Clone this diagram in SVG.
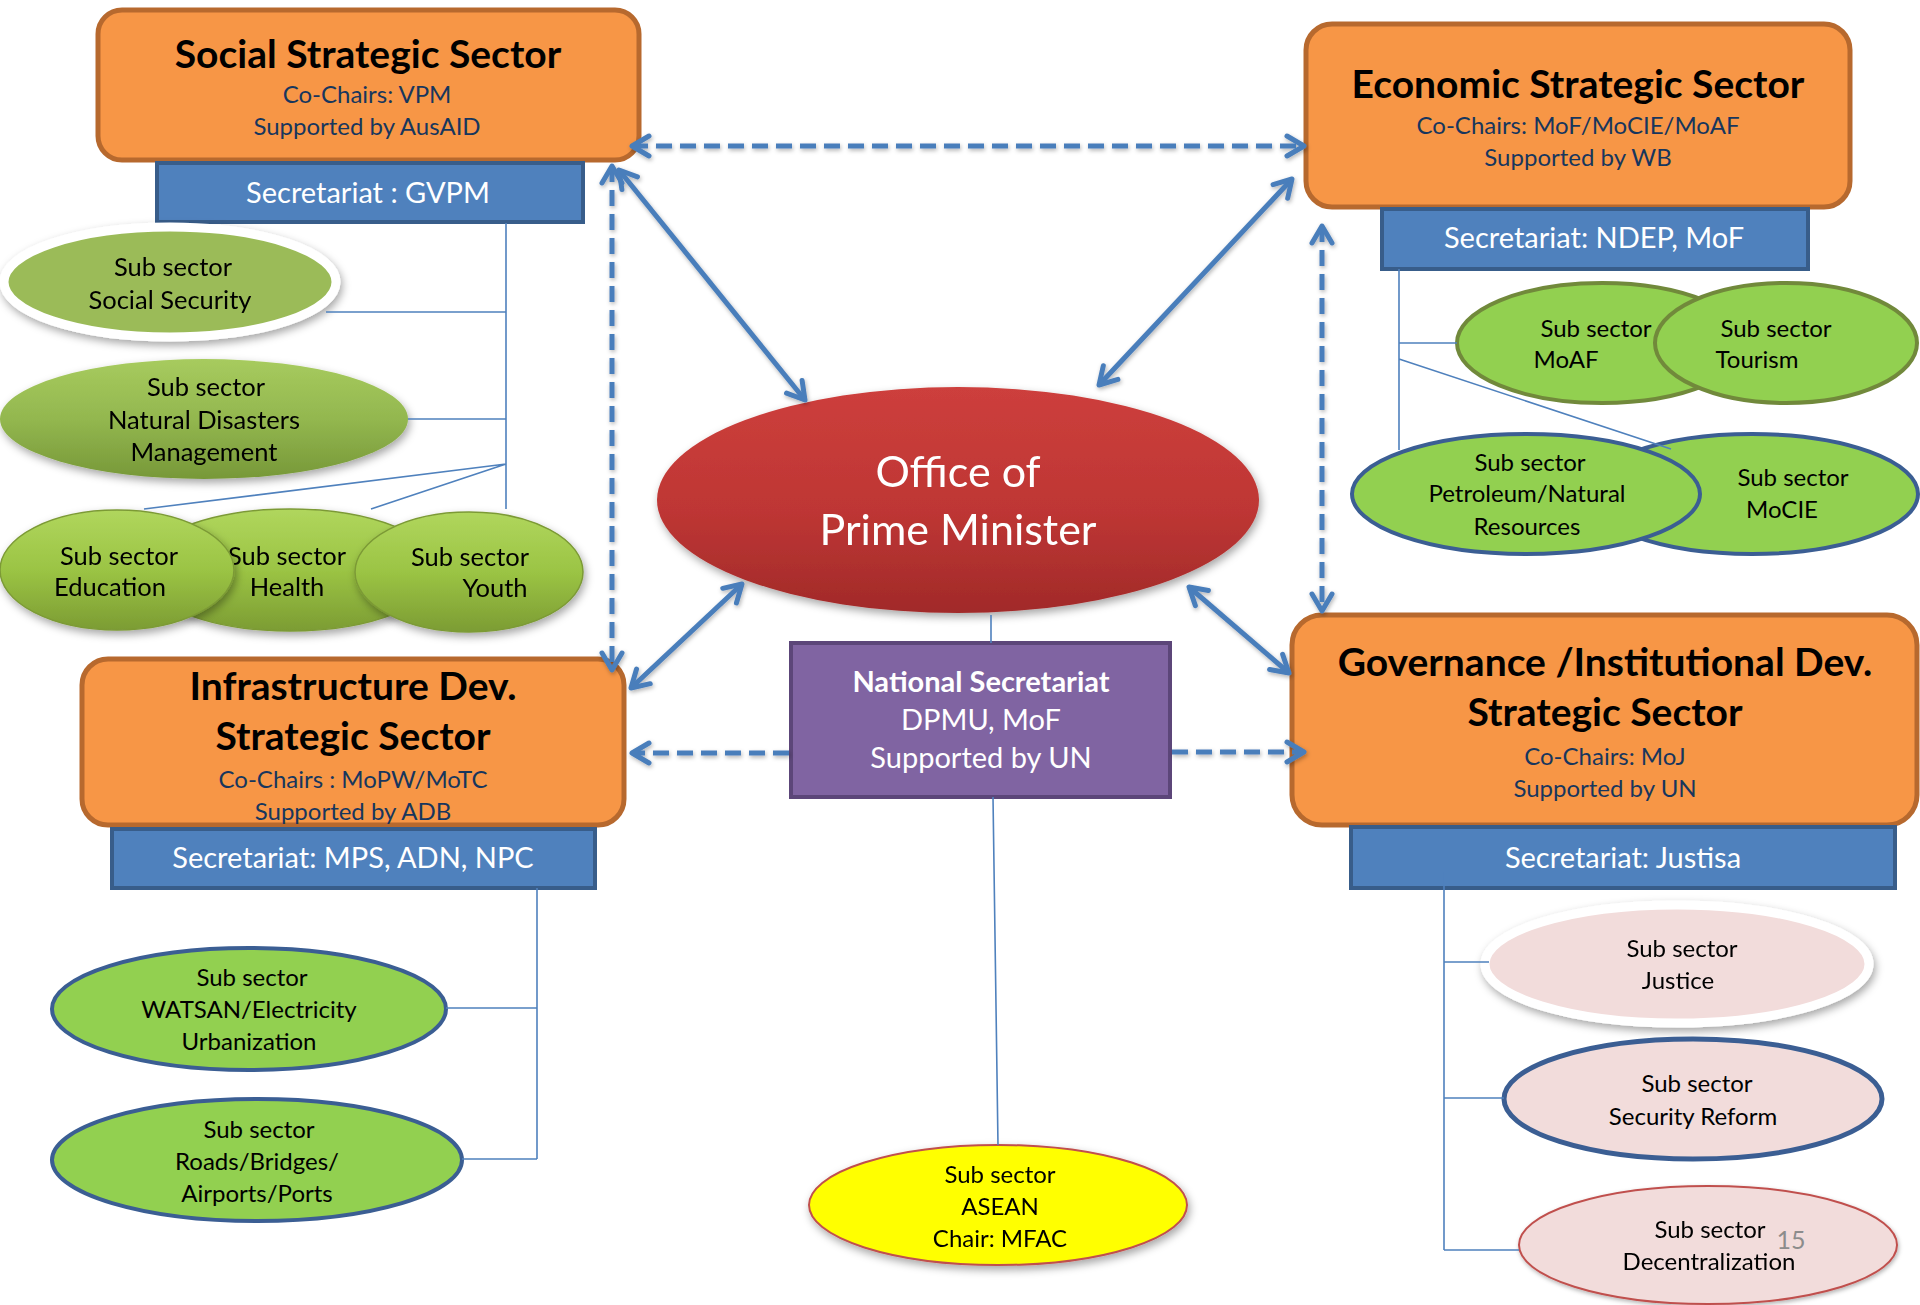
<svg xmlns="http://www.w3.org/2000/svg" width="1920" height="1305" viewBox="0 0 1920 1305">
<defs>
<style>
text{font-family:Lato,"Open Sans","Liberation Sans",sans-serif;text-anchor:middle}
.box{fill:#F79646;stroke:#B7692E;stroke-width:5}
.title{font-weight:bold;font-size:39px;fill:#000}
.sub{font-size:24px;fill:#17365D}
.bar{fill:#4F81BD;stroke:#385D8A;stroke-width:4}
.bartxt{font-size:29px;fill:#fff}
.ss{font-size:25.5px;fill:#000}
.ss2{font-size:24px;fill:#000}
.link{fill:none;stroke:#4F81BD;stroke-width:1.6}
.arr{fill:none;stroke:#4A7EBB;stroke-width:5}
.dash{stroke-dasharray:16 8}
.gE{fill:#92D050}
.pink{fill:#F2DCDB}
</style>
<linearGradient id="gOPM" x1="0" y1="0" x2="0" y2="1">
<stop offset="0" stop-color="#CD3F3C"/><stop offset="0.55" stop-color="#BE3634"/><stop offset="1" stop-color="#A12A29"/>
</linearGradient>
<linearGradient id="gNat" x1="0" y1="0" x2="0" y2="1">
<stop offset="0" stop-color="#A7CB5E"/><stop offset="0.5" stop-color="#93B74F"/><stop offset="1" stop-color="#779838"/>
</linearGradient>
<linearGradient id="gEdu" x1="0" y1="0" x2="0" y2="1">
<stop offset="0" stop-color="#B0D65D"/><stop offset="0.5" stop-color="#9BC444"/><stop offset="1" stop-color="#7C9C33"/>
</linearGradient>
<filter id="sh" x="-20%" y="-20%" width="140%" height="150%">
<feDropShadow dx="2" dy="4" stdDeviation="4" flood-color="#000" flood-opacity="0.35"/>
</filter>
<filter id="shs" x="-10%" y="-10%" width="120%" height="130%">
<feDropShadow dx="1" dy="2" stdDeviation="2" flood-color="#000" flood-opacity="0.3"/>
</filter>
<marker id="ah" viewBox="0 0 24 24" refX="20" refY="12" markerWidth="24" markerHeight="24" markerUnits="userSpaceOnUse" orient="auto-start-reverse" overflow="visible">
<path d="M3,2 L20,12 L3,22" fill="none" stroke="#4A7EBB" stroke-width="5" stroke-linecap="round" stroke-linejoin="round"/>
</marker>
</defs>
<rect width="1920" height="1305" fill="#fff"/>

<!-- Social Strategic Sector -->
<g id="social-sector">
<rect class="box" x="98" y="10" width="541" height="150" rx="24"/>
<text class="title" x="368" y="68">Social Strategic Sector</text>
<text class="sub" x="367" y="103">Co-Chairs: VPM</text>
<text class="sub" x="367" y="135">Supported by AusAID</text>
</g>
<g id="social-secretariat">
<rect class="bar" x="157" y="163" width="426" height="59"/>
<text class="bartxt" x="368" y="203">Secretariat : GVPM</text>
</g>
<g id="sub-social-security" filter="url(#sh)">
<ellipse cx="170" cy="282" rx="166" ry="55" fill="#9BBB59" stroke="#fff" stroke-width="9"/>
<text class="ss" x="173" y="276">Sub sector</text>
<text class="ss" x="170" y="309">Social Security</text>
</g>
<g id="sub-natural-disasters" filter="url(#sh)">
<ellipse cx="204" cy="419" rx="204" ry="60" fill="url(#gNat)"/>
<text class="ss" x="206" y="396">Sub sector</text>
<text class="ss" x="204" y="429">Natural Disasters</text>
<text class="ss" x="204" y="461">Management</text>
</g>
<g id="sub-health" filter="url(#sh)">
<ellipse cx="290" cy="570" rx="150" ry="61" fill="url(#gEdu)" stroke="#7C9A36" stroke-width="1.5"/>
<text class="ss" x="287" y="565">Sub sector</text>
<text class="ss" x="287" y="596">Health</text>
</g>
<g id="sub-education" filter="url(#sh)">
<ellipse cx="117" cy="570" rx="117" ry="60" fill="url(#gEdu)" stroke="#7C9A36" stroke-width="1.5"/>
<text class="ss" x="119" y="565">Sub sector</text>
<text class="ss" x="110" y="596">Education</text>
</g>
<g id="sub-youth" filter="url(#sh)">
<ellipse cx="469" cy="572" rx="114" ry="60" fill="url(#gEdu)" stroke="#7C9A36" stroke-width="1.5"/>
<text class="ss" x="470" y="566">Sub sector</text>
<text class="ss" x="495" y="597">Youth</text>
</g>

<!-- Economic Strategic Sector -->
<g id="economic-sector">
<rect class="box" x="1306" y="24" width="544" height="183" rx="26"/>
<text class="title" x="1578" y="98">Economic Strategic Sector</text>
<text class="sub" x="1578" y="134">Co-Chairs: MoF/MoCIE/MoAF</text>
<text class="sub" x="1578" y="166">Supported by WB</text>
</g>
<g id="economic-secretariat">
<rect class="bar" x="1382" y="209" width="426" height="60"/>
<text class="bartxt" x="1594" y="248">Secretariat: NDEP, MoF</text>
</g>
<g id="sub-moaf">
<ellipse class="gE" cx="1602" cy="343" rx="145" ry="60" stroke="#71893B" stroke-width="4"/>
<text class="ss2" x="1596" y="337">Sub sector</text>
<text class="ss2" x="1566" y="368">MoAF</text>
</g>
<g id="sub-tourism">
<ellipse class="gE" cx="1786" cy="343" rx="131" ry="60" stroke="#71893B" stroke-width="4"/>
<text class="ss2" x="1776" y="337">Sub sector</text>
<text class="ss2" x="1757" y="368">Tourism</text>
</g>
<g id="sub-mocie">
<ellipse class="gE" cx="1752" cy="494" rx="166" ry="60" stroke="#3B5E93" stroke-width="4"/>
<text class="ss2" x="1793" y="486">Sub sector</text>
<text class="ss2" x="1782" y="518">MoCIE</text>
</g>
<g id="sub-petroleum">
<ellipse class="gE" cx="1526" cy="494" rx="174" ry="60" stroke="#3B5E93" stroke-width="4"/>
<text class="ss2" x="1530" y="471">Sub sector</text>
<text class="ss2" x="1527" y="502">Petroleum/Natural</text>
<text class="ss2" x="1527" y="535">Resources</text>
</g>

<!-- Office of Prime Minister -->
<g id="office-pm" filter="url(#sh)">
<ellipse cx="958" cy="500" rx="301" ry="113" fill="url(#gOPM)"/>
<text x="958" y="487" font-size="43" fill="#fff">Office of</text>
<text x="958" y="545" font-size="43" fill="#fff">Prime Minister</text>
</g>

<!-- National Secretariat -->
<g id="national-secretariat">
<rect x="791" y="643" width="379" height="154" fill="#8064A2" stroke="#5C4679" stroke-width="4"/>
<text x="981" y="692" font-size="29" font-weight="bold" fill="#fff">National Secretariat</text>
<text x="981" y="730" font-size="29" fill="#fff">DPMU, MoF</text>
<text x="981" y="768" font-size="29" fill="#fff">Supported by UN</text>
</g>

<!-- Infrastructure -->
<g id="infrastructure-sector">
<rect class="box" x="82" y="659" width="542" height="166" rx="26"/>
<text class="title" x="353" y="700">Infrastructure Dev.</text>
<text class="title" x="353" y="750">Strategic Sector</text>
<text class="sub" x="353" y="788">Co-Chairs : MoPW/MoTC</text>
<text class="sub" x="353" y="820">Supported by ADB</text>
</g>
<g id="infrastructure-secretariat">
<rect class="bar" x="112" y="829" width="483" height="59"/>
<text class="bartxt" x="353" y="868">Secretariat: MPS, ADN, NPC</text>
</g>
<g id="sub-watsan">
<ellipse class="gE" cx="249" cy="1009" rx="197" ry="61" stroke="#3B5E93" stroke-width="4"/>
<text class="ss2" x="252" y="986">Sub sector</text>
<text class="ss2" x="249" y="1018">WATSAN/Electricity</text>
<text class="ss2" x="249" y="1050">Urbanization</text>
</g>
<g id="sub-roads">
<ellipse class="gE" cx="257" cy="1160" rx="205" ry="61" stroke="#3B5E93" stroke-width="4"/>
<text class="ss2" x="259" y="1138">Sub sector</text>
<text class="ss2" x="257" y="1170">Roads/Bridges/</text>
<text class="ss2" x="257" y="1202">Airports/Ports</text>
</g>

<!-- Governance -->
<g id="governance-sector">
<rect class="box" x="1292" y="615" width="625" height="210" rx="30"/>
<text class="title" x="1605" y="676">Governance /Institutional Dev.</text>
<text class="title" x="1605" y="726">Strategic Sector</text>
<text class="sub" x="1605" y="765">Co-Chairs: MoJ</text>
<text class="sub" x="1605" y="797">Supported by UN</text>
</g>
<g id="governance-secretariat">
<rect class="bar" x="1351" y="827" width="544" height="61"/>
<text class="bartxt" x="1623" y="868">Secretariat: Justisa</text>
</g>
<g id="sub-justice" filter="url(#sh)">
<ellipse class="pink" cx="1677" cy="964" rx="192" ry="59" stroke="#fff" stroke-width="9"/>
<text class="ss2" x="1682" y="957">Sub sector</text>
<text class="ss2" x="1678" y="989">Justice</text>
</g>
<g id="sub-security">
<ellipse class="pink" cx="1693" cy="1099" rx="189" ry="60" stroke="#3B5E93" stroke-width="5"/>
<text class="ss2" x="1697" y="1092">Sub sector</text>
<text class="ss2" x="1693" y="1125">Security Reform</text>
</g>
<g id="sub-decentralization" filter="url(#shs)">
<ellipse class="pink" cx="1708" cy="1245" rx="189" ry="59" stroke="#C0504D" stroke-width="2"/>
<text class="ss2" x="1710" y="1238">Sub sector</text>
<text class="ss2" x="1709" y="1270">Decentralization</text>
</g>

<!-- ASEAN -->
<g id="sub-asean" filter="url(#sh)">
<ellipse cx="998" cy="1205" rx="189" ry="60" fill="#FFFF00" stroke="#C0504D" stroke-width="2"/>
<text class="ss2" x="1000" y="1183">Sub sector</text>
<text class="ss2" x="1000" y="1215">ASEAN</text>
<text class="ss2" x="1000" y="1247">Chair: MFAC</text>
</g>

<!-- page number -->
<text x="1791" y="1249" font-size="25" fill="#8C8C8C">15</text>

<!-- Connectors -->
<g id="connectors">
<g id="tree-lines">
<path class="link" d="M506,223 V509 M326,312 H506 M408,419 H506 M506,464 L144,509 M506,464 L371,509"/>
<path class="link" d="M1399,269 V450 M1399,343 H1457 M1399,359 L1671,449"/>
<path class="link" d="M537,888 V1159 M446,1008 H537 M462,1159 H537"/>
<path class="link" d="M1444,872 V1250 M1444,962 H1489 M1444,1098 H1504 M1444,1250 H1519"/>
<path class="link" d="M991,615 V643 M993,797 L998,1145"/>
</g>
<g id="arrows" filter="url(#shs)">
<line class="arr dash" x1="632" y1="146" x2="1304" y2="146" marker-start="url(#ah)" marker-end="url(#ah)"/>
<line class="arr dash" x1="612" y1="166" x2="612" y2="670" marker-start="url(#ah)" marker-end="url(#ah)"/>
<line class="arr dash" x1="1322" y1="226" x2="1322" y2="611" marker-start="url(#ah)" marker-end="url(#ah)"/>
<line class="arr" x1="619" y1="170" x2="805" y2="400" marker-start="url(#ah)" marker-end="url(#ah)"/>
<line class="arr" x1="1099" y1="385" x2="1292" y2="179" marker-start="url(#ah)" marker-end="url(#ah)"/>
<line class="arr" x1="742" y1="584" x2="631" y2="688" marker-start="url(#ah)" marker-end="url(#ah)"/>
<line class="arr" x1="1189" y1="587" x2="1289" y2="673" marker-start="url(#ah)" marker-end="url(#ah)"/>
<line class="arr dash" x1="789" y1="753" x2="632" y2="753" marker-end="url(#ah)"/>
<line class="arr dash" x1="1172" y1="752" x2="1304" y2="752" marker-end="url(#ah)"/>
</g>
</g>
</svg>
